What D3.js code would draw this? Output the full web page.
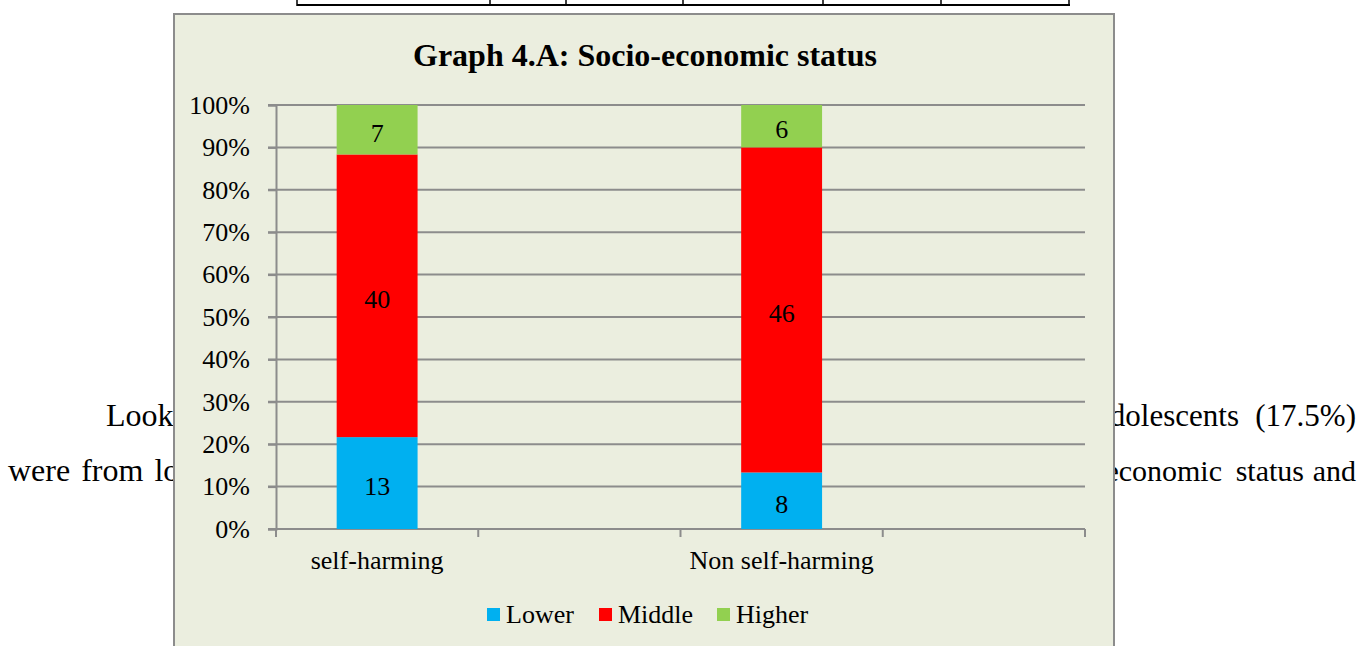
<!DOCTYPE html>
<html>
<head>
<meta charset="utf-8">
<script src="https://d3js.org/d3.v7.min.js"></script>
<style>
  body { margin: 0; background: #fff; }
  svg { display: block; }
</style>
</head>
<body>
<div id="chart"></div>
<script>
// categories (two empty slots, as in the original sheet)
var categories = ["self-harming", "gap1", "Non self-harming", "gap2"];
var categoryLabels = ["self-harming", "", "Non self-harming", ""];
var groups = ["self-harming", "Non self-harming"];
var series = ["Lower", "Middle", "Higher"];
var lowerValues = [13, 8];
var middleValues = [40, 46];
var higherValues = [7, 6];
var colors = ["#00b0f0", "#ff0000", "#92d050"];
var yTicks = [0, 0.1, 0.2, 0.3, 0.4, 0.5, 0.6, 0.7, 0.8, 0.9, 1];

var W = 1362, H = 646,
    serif = "'Liberation Serif', 'Times New Roman', serif";

var svg = d3.select("#chart").append("svg")
    .attr("width", W)
    .attr("height", H);

// page text behind the chart
var tableCols = [297, 490, 566, 683, 823, 941, 1069];
svg.append("line")
    .attr("x1", 297).attr("x2", 1070)
    .attr("y1", 5).attr("y2", 5)
    .style("stroke", "#000").style("stroke-width", 2);
svg.selectAll("line.col")
    .data(tableCols)
    .enter().append("line")
    .attr("class", "col")
    .attr("x1", function (d) { return d; })
    .attr("x2", function (d) { return d; })
    .attr("y1", 0).attr("y2", 6)
    .style("stroke", "#000").style("stroke-width", 1.5);

function bodyText(x, y, anchor, size, txt) {
    return svg.append("text").attr("x", x).attr("y", y)
        .attr("text-anchor", anchor)
        .style("font-family", serif).style("font-size", size + "px")
        .text(txt);
}
bodyText(106, 426, "start", 32, "Look");
bodyText(1239, 426, "end", 31, "adolescents");
bodyText(1356, 426, "end", 31, "(17.5%)");
bodyText(8, 481, "start", 32, "were from low").style("word-spacing", "3px");
bodyText(1222, 481, "end", 30, "economic");
bodyText(1304, 481, "end", 30, "status");
bodyText(1356, 481, "end", 30, "and");

// chart box
svg.append("rect")
    .attr("x", 174).attr("y", 14)
    .attr("width", 940).attr("height", 660)
    .style("fill", "#ebeedf")
    .style("stroke", "#8c8c8c")
    .style("stroke-width", 2);

svg.append("text")
    .attr("x", 645).attr("y", 66)
    .attr("text-anchor", "middle")
    .style("font-family", serif).style("font-size", "32px").style("font-weight", "bold")
    .text("Graph 4.A: Socio-economic status");

var plotLeft = 276, plotRight = 1085, plotTop = 105, plotBottom = 529;

var x = d3.scaleBand()
    .domain(categories)
    .range([plotLeft, plotRight])
    .paddingInner(0.6)
    .paddingOuter(0.3);

var y = d3.scaleLinear()
    .domain([0, 1])
    .range([plotBottom, plotTop]);

// gridlines
svg.selectAll("line.grid")
    .data(yTicks)
    .enter().append("line")
    .attr("class", "grid")
    .attr("x1", plotLeft - 8).attr("x2", plotRight)
    .attr("y1", function (d) { return y(d); })
    .attr("y2", function (d) { return y(d); })
    .style("stroke", "#8c8c8c").style("stroke-width", 2);

// y axis
var yAxis = svg.append("g")
    .attr("transform", "translate(" + plotLeft + ",0)")
    .call(d3.axisLeft(y).tickValues(yTicks).tickFormat(d3.format(".0%")).tickSize(8).tickPadding(18));
yAxis.select(".domain").style("stroke", "#8c8c8c").style("stroke-width", 2);
yAxis.selectAll(".tick line").style("stroke", "#8c8c8c").style("stroke-width", 2);
yAxis.selectAll("text")
    .style("font-family", serif).style("font-size", "26px").style("fill", "#000");

// x axis ticks at slot boundaries
var step = x.step();
var boundaries = d3.range(categories.length + 1).map(function (i) { return plotLeft + i * step; });
svg.append("line")
    .attr("x1", plotLeft).attr("x2", plotRight)
    .attr("y1", plotBottom).attr("y2", plotBottom)
    .style("stroke", "#8c8c8c").style("stroke-width", 2);
svg.selectAll("line.xtick")
    .data(boundaries)
    .enter().append("line")
    .attr("class", "xtick")
    .attr("x1", function (d) { return d; })
    .attr("x2", function (d) { return d; })
    .attr("y1", plotBottom).attr("y2", plotBottom + 8)
    .style("stroke", "#8c8c8c").style("stroke-width", 2);
svg.selectAll("text.xlab")
    .data(categories)
    .enter().append("text")
    .attr("class", "xlab")
    .attr("x", function (d) { return x(d) + x.bandwidth() / 2; })
    .attr("y", 569)
    .attr("text-anchor", "middle")
    .style("font-family", serif).style("font-size", "26px")
    .text(function (d, i) { return categoryLabels[i]; });

// stacked bars
var rows = groups.map(function (g, i) {
    return { group: g, Lower: lowerValues[i], Middle: middleValues[i], Higher: higherValues[i] };
});
var stacked = d3.stack().keys(series).offset(d3.stackOffsetExpand)(rows);

var layers = svg.selectAll("g.layer")
    .data(stacked)
    .enter().append("g")
    .attr("class", "layer")
    .style("fill", function (d, i) { return colors[i]; });

layers.selectAll("rect")
    .data(function (d) { return d; })
    .enter().append("rect")
    .attr("x", function (d) { return x(d.data.group); })
    .attr("width", x.bandwidth())
    .attr("y", function (d) { return y(d[1]); })
    .attr("height", function (d) { return y(d[0]) - y(d[1]); });

layers.selectAll("text")
    .data(function (d) {
        return d.map(function (p) { return { p: p, key: d.key }; });
    })
    .enter().append("text")
    .attr("x", function (d) { return x(d.p.data.group) + x.bandwidth() / 2; })
    .attr("y", function (d) { return (y(d.p[0]) + y(d.p[1])) / 2 + 12; })
    .attr("text-anchor", "middle")
    .style("fill", "#000")
    .style("font-family", serif).style("font-size", "26px")
    .text(function (d) { return d.p.data[d.key]; });

// legend
var legendX = [487, 599, 717];
var legend = svg.selectAll("g.legend")
    .data(series)
    .enter().append("g")
    .attr("class", "legend")
    .attr("transform", function (d, i) { return "translate(" + legendX[i] + ",608)"; });
legend.append("rect")
    .attr("width", 13).attr("height", 13)
    .style("fill", function (d, i) { return colors[i]; });
legend.append("text")
    .attr("x", 19).attr("y", 15)
    .style("font-family", serif).style("font-size", "26px")
    .text(function (d) { return d; });
</script>
</body>
</html>
